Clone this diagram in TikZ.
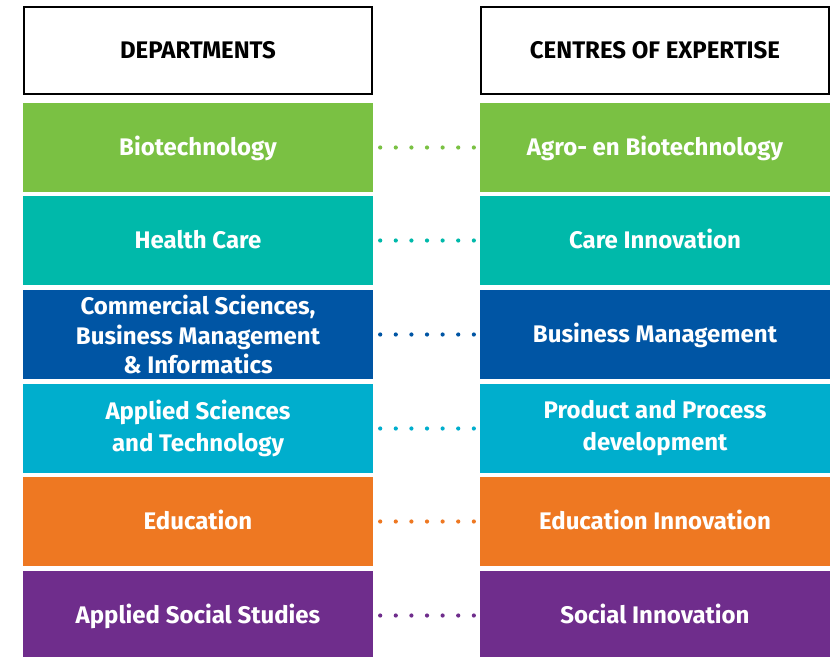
\documentclass[tikz,border=0pt]{standalone}
\usepackage{fontspec}
\setmainfont{Fira Sans}
\usetikzlibrary{calc}
\definecolor{cgreen}{RGB}{122,193,67}
\definecolor{cteal}{RGB}{0,185,170}
\definecolor{cblue}{RGB}{0,85,164}
\definecolor{clblue}{RGB}{0,174,205}
\definecolor{corange}{RGB}{238,120,34}
\definecolor{cpurple}{RGB}{111,45,140}
\tikzset{
  box/.style={minimum width=350pt, minimum height=89pt, inner sep=0pt, align=center,
    text=white, font=\fontsize{24}{30}\selectfont\bfseries, fill=#1},
  oneline/.style={text height=16pt, text depth=0pt},
  headbox/.style={minimum width=348pt, minimum height=87pt, inner sep=0pt, draw=black,
    line width=2.5pt, fill=white, font=\fontsize{24}{30}\selectfont\bfseries, oneline},
  dotstyle/.style={fill=#1}
}
\begin{document}
\begin{tikzpicture}[x=1pt,y=-1pt]
\clip (0,0) rectangle (834,656);
\fill[white] (0,0) rectangle (834,656);
\node[headbox] (hl) at (198,50.5) {DEPARTMENTS};
\node[headbox] (hr) at (655,50.5) {CENTRES OF EXPERTISE};
\node[box=cgreen, oneline] (l1) at (198,147.5) {Biotechnology};
\node[box=cgreen, oneline] (r1) at (655,147.5) {Agro- en Biotechnology};
\node[box=cteal, oneline] (l2) at (198,240.5) {Health Care};
\node[box=cteal, oneline] (r2) at (655,240.5) {Care Innovation};
\node[box=cblue, font=\fontsize{24}{29.5}\selectfont\bfseries] (l3) at (198,334.5) {Commercial Sciences,\\Business Management\\\& Informatics};
\node[box=cblue, oneline] (r3) at (655,334.5) {Business Management};
\node[box=clblue, font=\fontsize{24}{32}\selectfont\bfseries] (l4) at (198,428.5) {Applied Sciences\\and Technology};
\node[box=clblue, font=\fontsize{24}{32}\selectfont\bfseries] (r4) at (655,428.5) {Product and Process\\development};
\node[box=corange, oneline] (l5) at (198,521.5) {Education};
\node[box=corange, oneline] (r5) at (655,521.5) {Education Innovation};
\node[box=cpurple, oneline] (l6) at (198,615.5) {Applied Social Studies};
\node[box=cpurple, oneline] (r6) at (655,615.5) {Social Innovation};
\foreach \a/\b/\c in {l1/r1/cgreen, l2/r2/cteal, l3/r3/cblue, l4/r4/clblue, l5/r5/corange, l6/r6/cpurple}{
  \foreach \i in {0,...,6}{
    \fill[dotstyle=\c] ($(\a.east)!{(7+15.67*\i)/107}!(\b.west)$) circle[radius=2.1pt];
  }
}
\end{tikzpicture}
\end{document}
